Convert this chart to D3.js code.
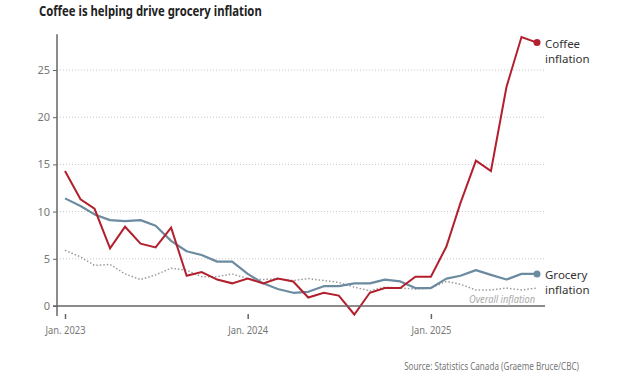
<!DOCTYPE html>
<html>
<head>
<meta charset="utf-8">
<script src="https://cdn.jsdelivr.net/npm/d3@7"></script>
<style>
  body { margin: 0; background: #fff; }
  svg { display: block; font-family: 'Noto Sans', sans-serif; }
</style>
</head>
<body>
<div id="chart"></div>
<script>
// monthly year-over-year change, %
var months = [
  '2023-01', '2023-02', '2023-03', '2023-04', '2023-05', '2023-06', '2023-07', '2023-08',
  '2023-09', '2023-10', '2023-11', '2023-12', '2024-01', '2024-02', '2024-03', '2024-04',
  '2024-05', '2024-06', '2024-07', '2024-08', '2024-09', '2024-10', '2024-11', '2024-12',
  '2025-01', '2025-02', '2025-03', '2025-04', '2025-05', '2025-06', '2025-07', '2025-08'
];
var coffee = [
  14.3, 11.3, 10.3, 6.1, 8.4, 6.6, 6.2, 8.3,
  3.2, 3.6, 2.8, 2.4, 2.9, 2.4, 2.9, 2.6,
  0.9, 1.4, 1.1, -0.9, 1.4, 1.9, 1.9, 3.1,
  3.1, 6.3, 10.9, 15.4, 14.3, 23.2, 28.5, 27.9
];
var grocery = [
  11.4, 10.6, 9.7, 9.1, 9.0, 9.1, 8.5, 6.9,
  5.8, 5.4, 4.7, 4.7, 3.4, 2.4, 1.8, 1.4,
  1.5, 2.1, 2.1, 2.4, 2.4, 2.8, 2.6, 1.9,
  1.9, 2.9, 3.2, 3.8, 3.3, 2.8, 3.4, 3.4
];
var overall = [
  5.9, 5.2, 4.3, 4.4, 3.4, 2.8, 3.3, 4.0,
  3.8, 3.1, 3.1, 3.4, 2.9, 2.8, 2.9, 2.7,
  2.9, 2.7, 2.5, 2.0, 1.6, 2.0, 1.9, 1.8,
  1.9, 2.6, 2.3, 1.7, 1.7, 1.9, 1.7, 1.9
];
var yTicks = [0, 5, 10, 15, 20, 25];
var xTicks = ['2023-01', '2024-01', '2025-01'];

(function() {
  'use strict';

  var svgWidth = 618,
    svgHeight = 382,
    plotLeft = 57,
    plotRight = 545;

  var parse = d3.timeParse('%Y-%m');
  var dates = months.map(parse);

  var x = d3.scaleTime()
    .domain(d3.extent(dates))
    .range([65, 537]);

  var y = d3.scaleLinear()
    .domain([0, 25])
    .range([306, 70]);

  var svg = d3.select('#chart')
    .append('svg')
    .attr('width', svgWidth)
    .attr('height', svgHeight);

  // the reference uses a condensed face, so squeeze text horizontally to a target width
  function squeeze(sel, width) {
    var len = sel.node().getComputedTextLength();
    var k = Math.min(1, width / len);
    var x0 = +sel.attr('x'), y0 = +sel.attr('y');
    sel.attr('x', 0).attr('y', 0)
      .attr('transform', 'translate(' + x0 + ',' + y0 + ') scale(' + k + ',1)');
  }

  // title
  svg.append('text')
    .attr('x', 39)
    .attr('y', 16)
    .attr('font-size', 14)
    .attr('font-weight', 700)
    .attr('fill', '#222')
    .text('Coffee is helping drive grocery inflation')
    .call(squeeze, 223);

  // gridlines
  svg.append('g')
    .selectAll('line')
    .data(yTicks.filter(function(d) { return d > 0; }))
    .enter().append('line')
    .attr('x1', plotLeft)
    .attr('x2', plotRight)
    .attr('y1', function(d) { return y(d); })
    .attr('y2', function(d) { return y(d); })
    .attr('stroke', '#c4c8cc')
    .attr('stroke-width', 1)
    .attr('stroke-dasharray', '1,2');

  // y axis
  var yAxis = svg.append('g')
    .attr('transform', 'translate(' + plotLeft + ',0)')
    .call(d3.axisLeft(y).tickValues(yTicks).tickSize(4).tickPadding(3));
  yAxis.select('.domain').remove();
  yAxis.selectAll('line').attr('stroke', '#666');
  yAxis.selectAll('text')
    .attr('fill', '#777')
    .attr('font-size', 11)
    .attr('font-family', "'Noto Sans', sans-serif");

  svg.append('line')
    .attr('x1', plotLeft)
    .attr('x2', plotLeft)
    .attr('y1', y(28.8))
    .attr('y2', 316)
    .attr('stroke', '#666')
    .attr('stroke-width', 1.5);

  // x axis
  var xAxis = svg.append('g')
    .attr('transform', 'translate(0,314)')
    .call(d3.axisBottom(x).tickValues(xTicks.map(parse)).tickSize(5).tickPadding(7)
      .tickFormat(d3.timeFormat('Jan. %Y')));
  xAxis.select('.domain').remove();
  xAxis.selectAll('line').attr('stroke', '#666').attr('stroke-width', 1.5);
  xAxis.selectAll('text')
    .attr('fill', '#777')
    .attr('font-size', 11)
    .attr('font-family', "'Noto Sans', sans-serif")
    .attr('textLength', 40)
    .attr('lengthAdjust', 'spacingAndGlyphs');

  var line = d3.line()
    .x(function(d, i) { return x(dates[i]); })
    .y(function(d) { return y(d); });

  // overall inflation (dotted)
  svg.append('path')
    .datum(overall)
    .attr('d', line)
    .attr('fill', 'none')
    .attr('stroke', '#9a9a9a')
    .attr('stroke-width', 1.5)
    .attr('stroke-dasharray', '1.5,2');

  svg.append('path')
    .datum(grocery)
    .attr('d', line)
    .attr('fill', 'none')
    .attr('stroke', '#6c8ba0')
    .attr('stroke-width', 2.2)
    .attr('stroke-linejoin', 'round');

  svg.append('path')
    .datum(coffee)
    .attr('d', line)
    .attr('fill', 'none')
    .attr('stroke', '#b2202e')
    .attr('stroke-width', 2)
    .attr('stroke-linejoin', 'miter');

  // baseline at zero
  svg.append('line')
    .attr('x1', 53)
    .attr('x2', plotRight)
    .attr('y1', y(0))
    .attr('y2', y(0))
    .attr('stroke', '#666')
    .attr('stroke-width', 1.5);

  var last = dates.length - 1;

  svg.append('circle')
    .attr('cx', x(dates[last]))
    .attr('cy', y(coffee[last]))
    .attr('r', 3.5)
    .attr('fill', '#b2202e');

  svg.append('circle')
    .attr('cx', x(dates[last]))
    .attr('cy', y(grocery[last]))
    .attr('r', 3.5)
    .attr('fill', '#6c8ba0');

  // series labels
  function label(lines, yPos) {
    var t = svg.append('text')
      .attr('x', 545)
      .attr('y', yPos)
      .attr('font-size', 11.5)
      .attr('fill', '#333');
    t.selectAll('tspan')
      .data(lines)
      .enter().append('tspan')
      .attr('x', 545)
      .attr('dy', function(d, i) { return i ? 14.5 : 0; })
      .text(function(d) { return d; });
  }
  label(['Coffee', 'inflation'], 48);
  label(['Grocery', 'inflation'], 279);

  svg.append('text')
    .attr('x', 535)
    .attr('y', 302.5)
    .attr('text-anchor', 'end')
    .attr('font-size', 10.5)
    .attr('font-style', 'italic')
    .attr('fill', '#aaa')
    .text('Overall inflation')
    .call(squeeze, 66);

  svg.append('text')
    .attr('x', 579)
    .attr('y', 370)
    .attr('text-anchor', 'end')
    .attr('font-size', 10.5)
    .attr('fill', '#777')
    .text('Source: Statistics Canada (Graeme Bruce/CBC)')
    .call(squeeze, 175);
})();
</script>
</body>
</html>
